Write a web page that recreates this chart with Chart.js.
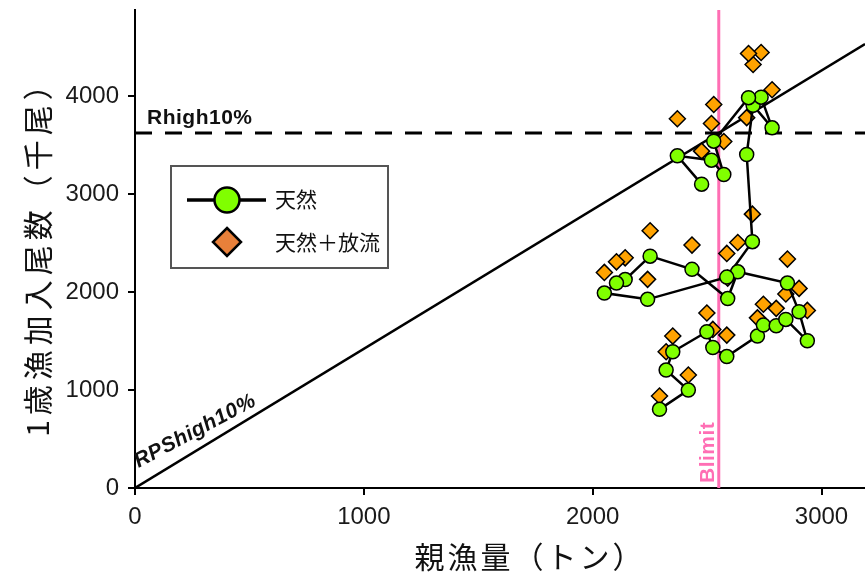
<!DOCTYPE html>
<html>
<head>
<meta charset="utf-8">
<script src="https://cdn.jsdelivr.net/npm/chart.js@4.4.1/dist/chart.umd.min.js"></script>
<style>
  html, body { margin: 0; padding: 0; background: #fff; }
  canvas { display: block; }
</style>
</head>
<body>
<canvas id="c" width="865" height="581"></canvas>
<script>
// Spawning stock biomass (t), one entry per year
const spawningStock = [2292, 2418, 2321, 2350, 2499, 2525, 2586, 2720, 2746, 2802, 2844, 2938, 2902, 2851, 2634, 2590, 2434, 2251, 2142, 2104, 2051, 2240, 2586, 2698, 2673, 2701, 2784, 2736, 2681, 2529, 2573, 2519, 2370, 2476];
// Age-1 recruits, wild origin only (thousand fish)
const recruitsWild = [803, 1000, 1204, 1391, 1595, 1434, 1342, 1551, 1663, 1656, 1721, 1503, 1799, 2092, 2207, 1934, 2232, 2367, 2128, 2092, 1990, 1926, 2153, 2515, 3405, 3908, 3677, 3990, 3985, 3541, 3201, 3347, 3391, 3102];
// Age-1 recruits, wild + released (thousand fish)
const recruitsTotal = [939, 1153, 1391, 1551, 1786, 1619, 1561, 1737, 1876, 1834, 1980, 1813, 2038, 2337, 2507, 2143, 2480, 2626, 2350, 2309, 2201, 2130, 2395, 2796, 3781, 4323, 4066, 4446, 4436, 3915, 3538, 3721, 3770, 3439];

// Reference points
const blimit = 2551;   // Blimit (t)
const rhigh = 3625;    // Rhigh10% (thousand fish)

// Axis ranges and ticks
const xMax = 3190;
const yMax = 4880;
const xTicks = [0, 1000, 2000, 3000];
const yTicks = [0, 1000, 2000, 3000, 4000];

const labels = {
  xTitle: '親漁量（トン）',
  yTitle: '1歳漁加入尾数（千尾）',
  wild: '天然',
  total: '天然＋放流',
  rhigh: 'Rhigh10%',
  rps: 'RPShigh10%',
  blimit: 'Blimit'
};

const GREEN = '#80FF00';
const ORANGE = '#FFA300';
const ORANGE_KEY = '#E8803A';
const PINK = '#FF6EB4';
const TICK_FONT = '"Liberation Sans", Arial, sans-serif';
const JP_FONT = '"Noto Sans CJK JP", "Noto Sans", sans-serif';

const rpsSlope = rhigh / blimit;

// Text, legend box and axis titles drawn on top of the plot
const overlay = {
  id: 'overlay',
  afterDraw(chart) {
    const { ctx, chartArea, scales: { x, y } } = chart;
    ctx.save();
    ctx.fillStyle = '#111';

    // Rhigh10% label above the dashed line
    ctx.font = `bold 21px ${TICK_FONT}`;
    ctx.letterSpacing = '0.5px';
    ctx.textAlign = 'left';
    ctx.textBaseline = 'alphabetic';
    ctx.fillText(labels.rhigh, chartArea.left + 12, y.getPixelForValue(rhigh) - 9);

    // RPShigh10% label near the origin, slanted above the replacement line
    const x0 = x.getPixelForValue(0), y0 = y.getPixelForValue(0);
    ctx.save();
    ctx.translate(x0, y0);
    ctx.rotate(-28 * Math.PI / 180);
    ctx.font = `italic bold 21px ${TICK_FONT}`;
    ctx.fillText(labels.rps, 12.5, -16);
    ctx.restore();

    // Blimit label, vertical, left of the pink line
    ctx.save();
    ctx.translate(x.getPixelForValue(blimit) - 5, chartArea.bottom - 5);
    ctx.rotate(-Math.PI / 2);
    ctx.fillStyle = PINK;
    ctx.font = `bold 21px ${TICK_FONT}`;
    ctx.fillText(labels.blimit, 0, 0);
    ctx.restore();
    ctx.letterSpacing = '0px';

    // Legend box
    ctx.fillStyle = '#fff';
    ctx.fillRect(171, 166, 217, 102);
    ctx.strokeStyle = '#555';
    ctx.lineWidth = 2;
    ctx.strokeRect(171, 166, 217, 102);

    ctx.strokeStyle = '#000';
    ctx.lineWidth = 3.5;
    ctx.beginPath();
    ctx.moveTo(187, 200);
    ctx.lineTo(266, 200);
    ctx.stroke();
    ctx.beginPath();
    ctx.arc(227, 200, 12.5, 0, Math.PI * 2);
    ctx.fillStyle = GREEN;
    ctx.fill();
    ctx.lineWidth = 2.5;
    ctx.stroke();

    ctx.beginPath();
    ctx.moveTo(227, 228);
    ctx.lineTo(241, 242);
    ctx.lineTo(227, 256);
    ctx.lineTo(213, 242);
    ctx.closePath();
    ctx.fillStyle = ORANGE_KEY;
    ctx.fill();
    ctx.lineWidth = 2.5;
    ctx.stroke();

    ctx.fillStyle = '#111';
    ctx.font = `21px ${JP_FONT}`;
    ctx.textBaseline = 'middle';
    ctx.fillText(labels.wild, 275, 199);
    ctx.fillText(labels.total, 275, 242);

    // Axis titles
    ctx.textAlign = 'center';
    ctx.font = `30px ${JP_FONT}`;
    ctx.letterSpacing = '3px';
    ctx.fillText(labels.xTitle, 530, 557);

    ctx.save();
    ctx.translate(38, 254);
    ctx.rotate(-Math.PI / 2);
    ctx.font = `30px ${JP_FONT}`;
    ctx.letterSpacing = '5px';
    ctx.fillText(labels.yTitle, 3, 0);
    ctx.restore();

    ctx.restore();
  }
};

const wildPoints = spawningStock.map((s, i) => ({ x: s, y: recruitsWild[i] }));
const totalPoints = spawningStock.map((s, i) => ({ x: s, y: recruitsTotal[i] }));

new Chart(document.getElementById('c'), {
  type: 'scatter',
  data: {
    datasets: [
      {
        label: labels.wild,
        data: wildPoints,
        showLine: true,
        borderColor: '#000',
        borderWidth: 2.5,
        pointRadius: 7,
        pointBackgroundColor: GREEN,
        pointBorderColor: '#000',
        pointBorderWidth: 1.5,
        order: 0
      },
      {
        label: labels.total,
        data: totalPoints,
        showLine: false,
        pointStyle: 'rectRot',
        pointRadius: 8,
        pointBackgroundColor: ORANGE,
        pointBorderColor: '#000',
        pointBorderWidth: 1.5,
        order: 1
      },
      {
        label: labels.rps,
        data: [{ x: 0, y: 0 }, { x: xMax, y: xMax * rpsSlope }],
        showLine: true,
        borderColor: '#000',
        borderWidth: 2.5,
        pointRadius: 0,
        order: 2
      },
      {
        label: labels.rhigh,
        data: [{ x: 0, y: rhigh }, { x: xMax, y: rhigh }],
        showLine: true,
        borderColor: '#000',
        borderWidth: 3,
        borderDash: [17, 13],
        pointRadius: 0,
        order: 2
      },
      {
        label: labels.blimit,
        data: [{ x: blimit, y: 0 }, { x: blimit, y: yMax }],
        showLine: true,
        borderColor: PINK,
        borderWidth: 3,
        pointRadius: 0,
        order: 3
      }
    ]
  },
  options: {
    responsive: false,
    animation: false,
    devicePixelRatio: 1,
    layout: { autoPadding: false, padding: { top: 10, right: 0, bottom: 0, left: 0 } },
    plugins: {
      legend: { display: false },
      tooltip: { enabled: false }
    },
    scales: {
      x: {
        type: 'linear',
        min: 0,
        max: xMax,
        afterBuildTicks: s => { s.ticks = xTicks.map(v => ({ value: v })); },
        afterFit: s => { s.height = 93; s.paddingLeft = 0; s.paddingRight = 0; },
        grid: { drawOnChartArea: false, color: '#000', lineWidth: 2, tickLength: 7, tickWidth: 2 },
        border: { color: '#000', width: 2 },
        ticks: { color: '#1a1a1a', font: { family: TICK_FONT, size: 24 }, padding: 8, maxRotation: 0, callback: v => String(v) }
      },
      y: {
        type: 'linear',
        min: 0,
        max: yMax,
        afterBuildTicks: s => { s.ticks = yTicks.map(v => ({ value: v })); },
        afterFit: s => { s.width = 135; s.paddingTop = 0; s.paddingBottom = 0; },
        grid: { drawOnChartArea: false, color: '#000', lineWidth: 2, tickLength: 7, tickWidth: 2 },
        border: { color: '#000', width: 2 },
        ticks: { color: '#1a1a1a', font: { family: TICK_FONT, size: 24 }, padding: 9, callback: v => String(v) }
      }
    }
  },
  plugins: [overlay]
});
</script>
</body>
</html>
